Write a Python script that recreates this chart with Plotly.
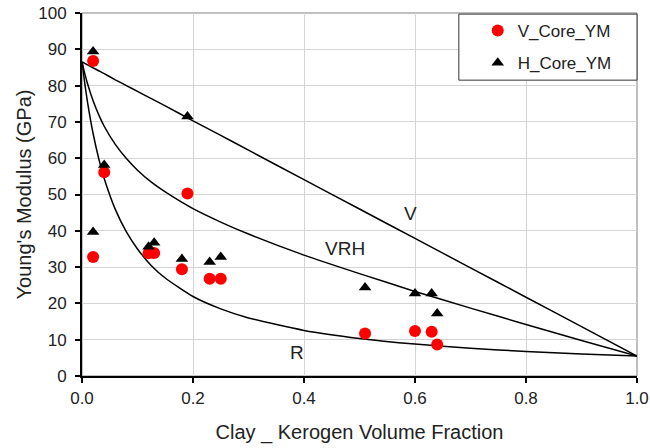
import plotly.graph_objects as go

# Core measurements
v_x = [0.02, 0.02, 0.04, 0.12, 0.13, 0.18, 0.19, 0.23, 0.25, 0.51, 0.60, 0.63, 0.64]
v_y = [86.8, 32.8, 56.1, 33.8, 33.9, 29.4, 50.3, 26.8, 26.8, 11.7, 12.4, 12.2, 8.7]
h_x = [0.02, 0.02, 0.04, 0.12, 0.13, 0.18, 0.19, 0.23, 0.25, 0.51, 0.60, 0.63, 0.64]
h_y = [89.4, 39.7, 58.1, 35.6, 36.7, 32.2, 71.5, 31.4, 32.8, 24.4, 22.7, 22.7, 17.2]

# Bound curves
curve_x = [0, 0.005, 0.01, 0.02, 0.03, 0.04, 0.06, 0.08, 0.1, 0.125, 0.15, 0.2, 0.25,
           0.3, 0.4, 0.5, 0.6, 0.7, 0.8, 0.9, 1.0]
voigt_y = [86.5, 86.1, 85.7, 84.9, 84.1, 83.3, 81.6, 80.0, 78.4, 76.4, 74.4, 70.3, 66.3,
           62.2, 54.1, 46.0, 37.9, 29.8, 21.7, 13.6, 5.5]
reuss_y = [86.5, 80.6, 75.4, 66.8, 60.0, 54.4, 45.9, 39.7, 35.0, 30.4, 27.0, 21.9, 18.5,
           16.0, 12.55, 10.34, 8.79, 7.65, 6.77, 6.07, 5.5]
vrh_y = [86.5, 83.3, 80.5, 75.8, 72.0, 68.8, 63.8, 59.9, 56.7, 53.4, 50.7, 46.1, 42.4,
         39.1, 33.3, 28.2, 23.3, 18.7, 14.2, 9.8, 5.5]

labels = ["V", "VRH", "R"]
label_x = [0.591, 0.474, 0.387]
label_y = [44.8, 35.1, 6.6]

x_ticks = [0.0, 0.2, 0.4, 0.6, 0.8, 1.0]
y_ticks = list(range(0, 101, 10))

font = "Liberation Sans, Arial, sans-serif"
txt = "#222222"

fig = go.Figure()
for yy in [voigt_y, vrh_y, reuss_y]:
    fig.add_trace(go.Scatter(x=curve_x, y=yy, mode="lines", showlegend=False,
                             line=dict(color="black", width=1.5, shape="spline", smoothing=0.6),
                             hoverinfo="skip"))
fig.add_trace(go.Scatter(x=v_x, y=v_y, mode="markers", name="V_Core_YM", legendgroup="v",
                         marker=dict(symbol="circle", size=12, color="#ff0000")))
fig.add_trace(go.Scatter(x=h_x, y=h_y, mode="markers", name="H_Core_YM", legendgroup="h",
                         marker=dict(symbol="triangle-up", size=11, color="black")))

for t, lx, ly in zip(labels, label_x, label_y):
    fig.add_annotation(x=lx, y=ly, text=t, showarrow=False,
                       font=dict(family=font, size=19, color=txt))

# plot-area frame and legend box
fig.add_shape(type="rect", xref="paper", yref="paper", x0=0, y0=0, x1=1, y1=1,
              line=dict(color="#808080", width=1), layer="below")
fig.add_shape(type="rect", xref="paper", yref="paper", x0=0.679, y0=0.815, x1=1.0, y1=0.997,
              line=dict(color="#333333", width=1), fillcolor="white", layer="above")

fig.update_layout(
    width=650, height=448,
    margin=dict(l=82, r=13, t=13, b=72, autoexpand=False),
    paper_bgcolor="white", plot_bgcolor="white",
    font=dict(family=font, size=17, color=txt),
    legend=dict(x=0.713, y=1.0, xanchor="left", yanchor="top",
                borderwidth=0, bgcolor="rgba(0,0,0,0)",
                font=dict(family=font, size=17, color=txt),
                itemwidth=30, tracegroupgap=7),
    xaxis=dict(range=[0, 1], tickvals=x_ticks, ticktext=[f"{v:.1f}" for v in x_ticks],
               showgrid=True, gridcolor="#d4d4d4", gridwidth=1,
               showline=True, linecolor="black", linewidth=2,
               ticks="outside", ticklen=5, tickcolor="black", tickwidth=2,
               zeroline=False, automargin=False, ticklabelstandoff=1,
               title=dict(text="Clay _ Kerogen Volume Fraction",
                          font=dict(family=font, size=20, color=txt), standoff=18)),
    yaxis=dict(range=[0, 100], tickvals=y_ticks,
               showgrid=True, gridcolor="#d4d4d4", gridwidth=1,
               showline=True, linecolor="black", linewidth=2,
               ticks="outside", ticklen=5, tickcolor="black", tickwidth=2,
               zeroline=False, automargin=False, ticklabelstandoff=5,
               title=dict(text="Young's Modulus (GPa)",
                          font=dict(family=font, size=20, color=txt), standoff=1)),
)

fig.write_html("out.html")
